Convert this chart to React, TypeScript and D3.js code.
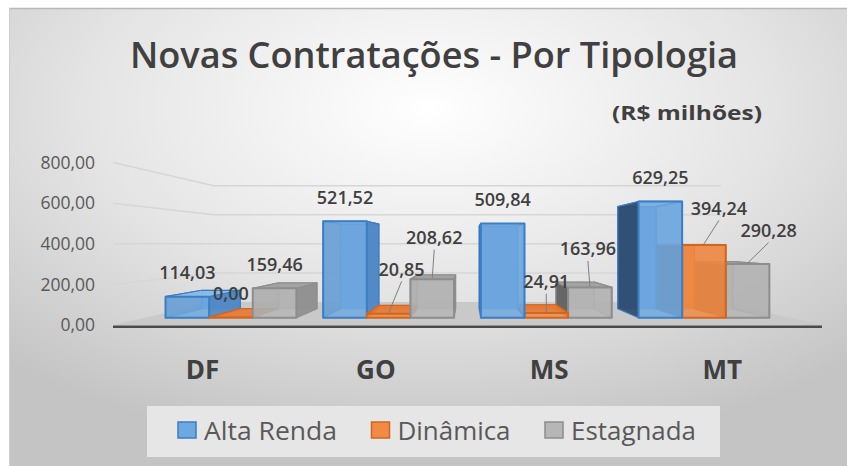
import React from 'react';
import * as d3 from 'd3';

// ---------- data ----------
const categories = ['DF', 'GO', 'MS', 'MT'];
const seriesNames = ['Alta Renda', 'Dinâmica', 'Estagnada'];
const altaRenda = [114.03, 521.52, 509.84, 629.25];
const dinamica = [0.0, 20.85, 24.91, 394.24];
const estagnada = [159.46, 208.62, 163.96, 290.28];
const yTicks = [0, 200, 400, 600, 800];
const title = 'Novas Contratações - Por Tipologia';
const subtitle = '(R$ milhões)';

// ---------- style / layout ----------
const W = 847;
const H = 466;
const FONT = "'Open Sans', 'Noto Sans', sans-serif";
const VP: [number, number] = [467, 244]; // vanishing point
const S_FRONT = 0.91; // bar front depth factor
const S_BACK = 0.8; // bar back depth factor
const S_WALL = 0.715; // back wall depth factor
const PLOT_L = 113;
const PLOT_R = 822;
const seriesStyle = [
  { front: '#6ea8e0', stroke: '#3b7ec4', right: '#4f89c6', left: '#2c4a6c', top: '#8dbde9', back: '#5b94cf' },
  { front: '#f08a44', stroke: '#d2661c', right: '#d26c26', left: '#8c4617', top: '#e57a36', back: '#e07a36' },
  { front: '#b6b6b6', stroke: '#8d8d8d', right: '#8f8f8f', left: '#5f5f5f', top: '#a2a2a2', back: '#a8a8a8' },
];
// pixel nudges for labels moved off their bars (drawn with a leader line)
const labelNudge = [
  [[0, 0], [0, 0], [0, 0], [0, 0]],
  [[0, 0], [13, -21], [0, -8], [15, -13]],
  [[0, 0], [2, -18], [-2, -15], [21, -10]],
];
const legendTextWidths = [133, 113, 125];

const locale = d3.formatLocale({ decimal: ',', thousands: '.', grouping: [3], currency: ['R$', ''] });
const fmt = locale.format(',.2f');

const proj = (X: number, Y: number, s: number): [number, number] => [
  VP[0] + (X - VP[0]) * s,
  VP[1] + (Y - VP[1]) * s,
];
const pts = (arr: [number, number][]) => arr.map((p) => p.join(',')).join(' ');

export default function App() {
  const seriesValues = [altaRenda, dinamica, estagnada];
  const x = d3.scaleBand<string>().domain(categories).range([121, 814]).paddingInner(0.17).paddingOuter(0.085);
  const xi = d3.scaleBand<string>().domain(seriesNames).range([0, x.bandwidth()]).padding(0);
  const y = d3.scaleLinear().domain([0, 800]).range([325, 162.6]);

  type Bar = { si: number; ci: number; v: number; X0: number; X1: number; Y0: number; Y1: number };
  const bars: Bar[] = [];
  seriesValues.forEach((vals, si) =>
    vals.forEach((v, ci) => {
      const X0 = (x(categories[ci]) as number) + (xi(seriesNames[si]) as number);
      const X1 = X0 + xi.bandwidth();
      bars.push({ si, ci, v, X0, X1, Y0: y(0), Y1: Math.min(y(v), y(0) - 0.3) });
    })
  );
  const order = [...bars].sort(
    (a, b) => Math.abs((b.X0 + b.X1) / 2 - VP[0]) - Math.abs((a.X0 + a.X1) / 2 - VP[0])
  );

  const renderBar = (b: Bar) => {
    const st = seriesStyle[b.si];
    const F = (X: number, Y: number) => proj(X, Y, S_FRONT);
    const B = (X: number, Y: number) => proj(X, Y, S_BACK);
    const faces = {
      back: [B(b.X0, b.Y0), B(b.X1, b.Y0), B(b.X1, b.Y1), B(b.X0, b.Y1)],
      left: [F(b.X0, b.Y0), B(b.X0, b.Y0), B(b.X0, b.Y1), F(b.X0, b.Y1)],
      right: [F(b.X1, b.Y0), B(b.X1, b.Y0), B(b.X1, b.Y1), F(b.X1, b.Y1)],
      top: [F(b.X0, b.Y1), F(b.X1, b.Y1), B(b.X1, b.Y1), B(b.X0, b.Y1)],
      front: [F(b.X0, b.Y0), F(b.X1, b.Y0), F(b.X1, b.Y1), F(b.X0, b.Y1)],
    };
    const leftVis = b.X0 > VP[0];
    const rightVis = b.X1 < VP[0];
    const topVis = b.Y1 > VP[1];
    const key = `${b.si}-${b.ci}`;
    const hidden: JSX.Element[] = [];
    const visible: JSX.Element[] = [];
    hidden.push(<polygon key="bk" points={pts(faces.back)} fill={st.back} fillOpacity={0.9} stroke={st.stroke} strokeWidth={1} strokeOpacity={0.6} />);
    (leftVis ? visible : hidden).push(
      <polygon key="l" points={pts(faces.left)} fill={st.left} fillOpacity={leftVis ? 0.92 : 0.5} stroke={st.stroke} strokeWidth={1.2} strokeLinejoin="round" />
    );
    (rightVis ? visible : hidden).push(
      <polygon key="r" points={pts(faces.right)} fill={st.right} fillOpacity={rightVis ? 0.92 : 0.5} stroke={st.stroke} strokeWidth={1.2} strokeLinejoin="round" />
    );
    (topVis ? visible : hidden).push(
      <polygon key="t" points={pts(faces.top)} fill={st.top} fillOpacity={topVis ? 0.92 : 0.5} stroke={st.stroke} strokeWidth={1.2} strokeLinejoin="round" />
    );
    visible.push(
      <polygon key="f" points={pts(faces.front)} fill={st.front} fillOpacity={0.82} stroke={st.stroke} strokeWidth={2} strokeLinejoin="round" />
    );
    return (
      <g key={key}>
        {hidden}
        {visible}
      </g>
    );
  };

  const labels = bars.map((b) => {
    const [ax, ay] = proj((b.X0 + b.X1) / 2, b.Y1, S_FRONT);
    const [dx, dy] = labelNudge[b.si][b.ci];
    const lx = ax + dx;
    const ly = ay - 23.5 + dy;
    const moved = Math.hypot(dx, dy) > 6;
    return (
      <g key={`lab-${b.si}-${b.ci}`}>
        {moved && (
          <line x1={lx} y1={ly + 12} x2={ax} y2={ay - 1} stroke="#7f7f7f" strokeWidth={1} />
        )}
        <text x={lx} y={ly} dy="0.35em" textAnchor="middle" fontFamily={FONT} fontSize={18} fontWeight={600} fill="#404040">
          {fmt(b.v)}
        </text>
      </g>
    );
  });

  const floor: [number, number][] = [
    proj(PLOT_L, y(0), 1),
    proj(PLOT_R, y(0), 1),
    proj(PLOT_R, y(0), S_WALL),
    proj(PLOT_L, y(0), S_WALL),
  ];

  // legend layout
  let lx = 178;
  const legendItems = seriesNames.map((name, i) => {
    const item = { name, i, sx: lx, tx: lx + 26, tw: legendTextWidths[i] };
    lx = item.tx + item.tw + 34.5;
    return item;
  });

  return (
    <svg width={W} height={H} style={{ position: 'absolute', left: 0, top: 0 }}>
      <defs>
        <radialGradient id="bg" cx="0.5" cy="0.22" r="0.75" fx="0.5" fy="0.22">
          <stop offset="0" stopColor="#ffffff" />
          <stop offset="0.55" stopColor="#e4e4e4" />
          <stop offset="1" stopColor="#c4c4c4" />
        </radialGradient>
      </defs>
      <rect x={0} y={0} width={W} height={H} fill="#ffffff" />
      <rect x={9} y={8} width={W - 9} height={H - 8} fill="url(#bg)" />
      <line x1={9} y1={8.5} x2={W} y2={8.5} stroke="#b8b8b8" strokeWidth={1.5} />
      <line x1={9.5} y1={8} x2={9.5} y2={H} stroke="#cfcfcf" strokeWidth={1} />

      {/* title */}
      <text x={130} y={68} fontFamily={FONT} fontSize={36} fontWeight={600} fill="#404040" textLength={608} lengthAdjust="spacingAndGlyphs">
        {title}
      </text>
      <text x={612} y={120} fontFamily={FONT} fontSize={19} fontWeight={700} fill="#404040" textLength={150} lengthAdjust="spacingAndGlyphs">
        {subtitle}
      </text>

      {/* gridlines: left wall + back wall */}
      {yTicks.filter((t) => t > 0).map((t) => {
        const a = proj(PLOT_L, y(t), 1);
        const b = proj(PLOT_L, y(t), S_WALL);
        const c = proj(PLOT_R, y(t), S_WALL);
        return <polyline key={`g${t}`} points={pts([a, b, c])} fill="none" stroke="#d6d6d6" strokeWidth={1.5} />;
      })}

      {/* floor */}
      <polygon points={pts(floor)} fill="#c9c9c9" />
      <line x1={PLOT_L} y1={y(0) + 1.8} x2={PLOT_R} y2={y(0) + 1.8} stroke="#4a4a4a" strokeWidth={2.6} />

      {/* y axis labels */}
      {yTicks.map((t) => (
        <text key={`yl${t}`} x={95} y={y(t)} dy="0.35em" textAnchor="end" fontFamily={FONT} fontSize={17.5} fill="#595959">
          {fmt(t)}
        </text>
      ))}

      {/* bars */}
      {order.map(renderBar)}

      {/* data labels */}
      {labels}

      {/* category labels */}
      {categories.map((c) => (
        <text key={`c${c}`} x={(x(c) as number) + x.bandwidth() / 2 - 5} y={370} dy="0.35em" textAnchor="middle" fontFamily={FONT} fontSize={26} fontWeight={700} fill="#404040">
          {c}
        </text>
      ))}

      {/* legend */}
      <rect x={147} y={406} width={573} height={51} fill="#e6e6e6" />
      {legendItems.map((it) => (
        <g key={`lg${it.i}`}>
          <rect x={it.sx} y={422} width={18} height={16} fill={seriesStyle[it.i].front} stroke={seriesStyle[it.i].stroke} strokeWidth={1.5} />
          <text x={it.tx} y={440} fontFamily={FONT} fontSize={26} fill="#595959" textLength={it.tw} lengthAdjust="spacingAndGlyphs">
            {it.name}
          </text>
        </g>
      ))}
    </svg>
  );
}
